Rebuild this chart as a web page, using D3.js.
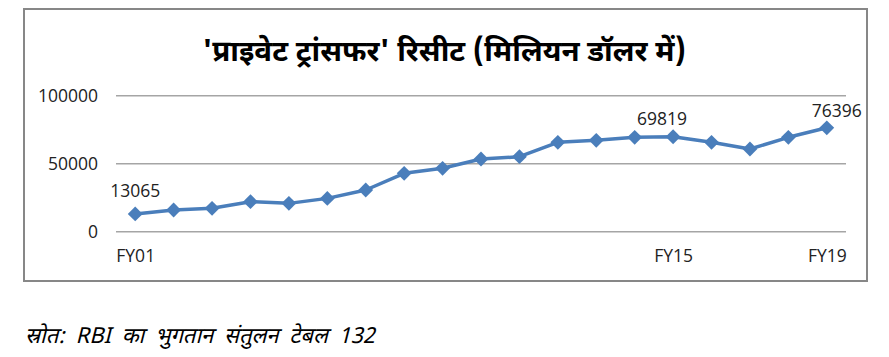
<!DOCTYPE html>
<html>
<head>
<meta charset="utf-8">
<script src="https://cdn.jsdelivr.net/npm/d3@7"></script>
<style>
  html, body { margin: 0; padding: 0; background: #fff; }
  svg { display: block; }
</style>
</head>
<body>
<div id="chart"></div>
<script>
const years = ["FY01","FY02","FY03","FY04","FY05","FY06","FY07","FY08","FY09","FY10",
               "FY11","FY12","FY13","FY14","FY15","FY16","FY17","FY18","FY19"];
const receipts = [13065, 15950, 17200, 22060, 20830, 24500, 30660, 42900, 46600, 53450,
                  55150, 65700, 67200, 69400, 69819, 65700, 60800, 69400, 76396];
const shownYears = ["FY01", "FY15", "FY19"];
const labelledYears = ["FY01", "FY15", "FY19"];
const yTicks = [0, 50000, 100000];

const title = "'प्राइवेट ट्रांसफर' रिसीट (मिलियन डॉलर में)";
const source = "स्रोत: RBI का भुगतान संतुलन टेबल 132";

const width = 889;
const height = 357;
const plotLeft = 116;
const plotRight = 846;
const plotTop = 95.7;
const plotBottom = 231.7;

const numFont = "'Open Sans', 'Liberation Sans', sans-serif";
const hindiFont = "'Mangal', 'Nirmala UI', 'Noto Sans Devanagari', 'Lohit Devanagari', 'FreeSans', sans-serif";

const svg = d3.select("#chart")
              .append("svg")
              .attr("width", width)
              .attr("height", height);

//frame
svg.append("rect")
   .attr("x", 24)
   .attr("y", 9)
   .attr("width", 843)
   .attr("height", 272)
   .attr("fill", "#fff")
   .attr("stroke", "#878787")
   .attr("stroke-width", 2);

//title
svg.append("text")
   .attr("x", 444)
   .attr("y", 61)
   .attr("text-anchor", "middle")
   .attr("font-family", hindiFont)
   .attr("font-weight", "bold")
   .attr("font-size", 29.5)
   .attr("fill", "#000")
   .text(title);

const xScale = d3.scalePoint()
                 .domain(years)
                 .range([plotLeft, plotRight])
                 .padding(0.5);

const yScale = d3.scaleLinear()
                 .domain([0, 100000])
                 .range([plotBottom, plotTop]);

//grid lines
svg.append("g")
   .selectAll("line")
   .data(yTicks)
   .join("line")
   .attr("x1", plotLeft)
   .attr("x2", plotRight)
   .attr("y1", d => yScale(d))
   .attr("y2", d => yScale(d))
   .attr("stroke", "#a5a5a5")
   .attr("stroke-width", 1.5);

//y-axis
const yAxis = d3.axisLeft(yScale)
                .tickValues(yTicks)
                .tickSize(0)
                .tickPadding(18)
                .tickFormat(d3.format("d"));

svg.append("g")
   .attr("transform", `translate(${plotLeft},0)`)
   .call(yAxis)
   .call(g => g.select(".domain").remove())
   .call(g => g.selectAll("text")
               .attr("font-family", numFont)
               .attr("font-size", 17.5)
               .attr("fill", "#222"));

//x-axis
const xAxis = d3.axisBottom(xScale)
                .tickValues(shownYears)
                .tickSize(0)
                .tickPadding(18);

svg.append("g")
   .attr("transform", `translate(0,${plotBottom})`)
   .call(xAxis)
   .call(g => g.select(".domain").remove())
   .call(g => g.selectAll("text")
               .attr("font-family", numFont)
               .attr("font-size", 17.5)
               .attr("fill", "#222"));

//line
const line = d3.line()
               .x((d, i) => xScale(years[i]))
               .y(d => yScale(d));

svg.append("path")
   .datum(receipts)
   .attr("d", line)
   .attr("fill", "none")
   .attr("stroke", "#4a7ebb")
   .attr("stroke-width", 3.5)
   .attr("stroke-linejoin", "round");

//markers
const diamond = d3.symbol().type(d3.symbolDiamond2).size(140);

svg.append("g")
   .selectAll("path")
   .data(receipts)
   .join("path")
   .attr("transform", (d, i) => `translate(${xScale(years[i])},${yScale(d)})`)
   .attr("d", diamond)
   .attr("fill", "#4a7ebb");

//data labels
const labelShift = { FY01: [0, -17], FY15: [-11, -11.5], FY19: [10, -10.5] };

svg.append("g")
   .selectAll("text")
   .data(years.map((y, i) => ({ year: y, value: receipts[i] }))
              .filter(d => labelledYears.includes(d.year)))
   .join("text")
   .attr("x", d => xScale(d.year) + labelShift[d.year][0])
   .attr("y", d => yScale(d.value) + labelShift[d.year][1])
   .attr("text-anchor", "middle")
   .attr("font-family", numFont)
   .attr("font-size", 17.5)
   .attr("fill", "#222")
   .text(d => d.value);

//source
svg.append("text")
   .attr("x", 25)
   .attr("y", 343)
   .attr("font-family", hindiFont)
   .attr("font-style", "italic")
   .attr("font-size", 22)
   .attr("word-spacing", 5)
   .attr("fill", "#000")
   .text(source);
</script>
</body>
</html>
